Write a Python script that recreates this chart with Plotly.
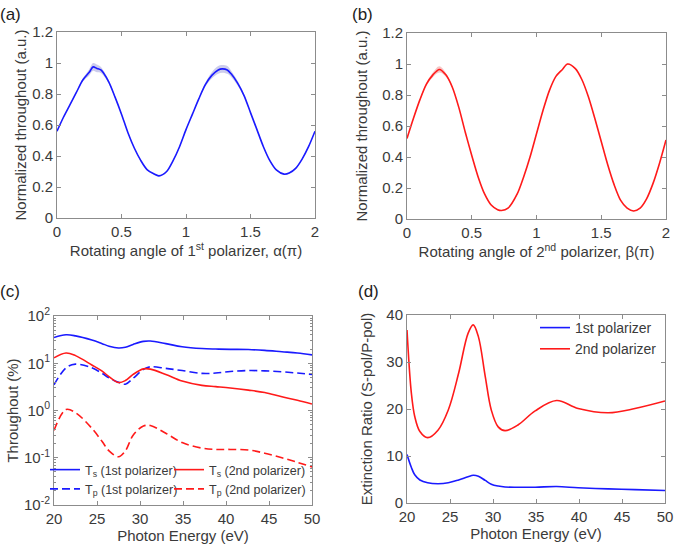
import plotly.graph_objects as go

# ---------------- data ----------------
# (a) 1st polarizer rotation
a_angle = [0, 0.05, 0.1, 0.15, 0.2, 0.25, 0.28, 0.31, 0.34, 0.4, 0.45, 0.5, 0.55, 0.6, 0.65,
           0.7, 0.75, 0.79, 0.85, 0.9, 0.95, 1.0, 1.05, 1.1, 1.15, 1.2, 1.25, 1.28, 1.32,
           1.35, 1.4, 1.45, 1.5, 1.55, 1.6, 1.65, 1.7, 1.76, 1.8, 1.85, 1.9, 1.95, 2.0]
a_value = [0.56, 0.65, 0.73, 0.81, 0.89, 0.94, 0.975, 0.965, 0.955, 0.88, 0.78, 0.67, 0.55,
           0.45, 0.37, 0.31, 0.285, 0.272, 0.30, 0.37, 0.46, 0.57, 0.67, 0.77, 0.86, 0.92,
           0.955, 0.962, 0.955, 0.93, 0.87, 0.79, 0.68, 0.57, 0.46, 0.37, 0.31, 0.283, 0.29,
           0.32, 0.38, 0.46, 0.56]
a_err = [0.004, 0.004, 0.004, 0.006, 0.01, 0.02, 0.025, 0.025, 0.02, 0.012, 0.006, 0.004,
         0.004, 0.004, 0.004, 0.004, 0.004, 0.004, 0.004, 0.004, 0.004, 0.004, 0.004, 0.006,
         0.012, 0.02, 0.025, 0.025, 0.025, 0.02, 0.015, 0.008, 0.004, 0.004, 0.004, 0.004,
         0.004, 0.004, 0.004, 0.004, 0.004, 0.004, 0.004]

# (b) 2nd polarizer rotation
b_angle = [0, 0.05, 0.1, 0.15, 0.2, 0.25, 0.3, 0.35, 0.4, 0.45, 0.5, 0.55, 0.6, 0.65, 0.7,
           0.73, 0.78, 0.85, 0.9, 0.95, 1.0, 1.05, 1.1, 1.15, 1.2, 1.24, 1.3, 1.35, 1.4,
           1.45, 1.5, 1.55, 1.6, 1.65, 1.7, 1.75, 1.8, 1.85, 1.9, 1.95, 2.0]
b_value = [0.52, 0.65, 0.77, 0.87, 0.93, 0.965, 0.93, 0.85, 0.72, 0.56, 0.41, 0.27, 0.16,
           0.09, 0.06, 0.055, 0.07, 0.16, 0.27, 0.40, 0.55, 0.70, 0.83, 0.92, 0.965, 1.0,
           0.97, 0.90, 0.79, 0.65, 0.50, 0.35, 0.22, 0.12, 0.07, 0.052, 0.07, 0.13, 0.23,
           0.36, 0.51]
b_err = [0.003, 0.004, 0.006, 0.01, 0.015, 0.02, 0.012, 0.006, 0.003, 0.003, 0.003, 0.003,
         0.003, 0.003, 0.003, 0.003, 0.003, 0.003, 0.003, 0.003, 0.003, 0.003, 0.003, 0.003,
         0.003, 0.003, 0.003, 0.003, 0.003, 0.003, 0.003, 0.003, 0.003, 0.003, 0.003, 0.003,
         0.003, 0.003, 0.003, 0.003, 0.003]

# (c) throughput vs photon energy (%)
c_energy = [20, 21.4, 22.5, 24.4, 25.6, 26.4, 27.5, 28.3, 29.2, 30.4, 31.2, 33, 34.9, 37.2,
            38.8, 40.5, 42.6, 44.5, 46.5, 48.3, 50]
ts1 = [35, 40, 38, 31, 26, 23, 21, 21.8, 25, 29, 29.5, 26, 22.4, 20.5, 20, 19.7, 19.5,
       18.7, 17.5, 16.5, 15]
ts2 = [13, 16.5, 14.5, 9.2, 6.8, 5.2, 3.9, 4.3, 5.8, 7.6, 7.5, 5.8, 4.2, 3.4, 3.2, 3.0,
       2.7, 2.4, 1.95, 1.65, 1.37]
tp1 = [3.5, 8.0, 9.6, 8.0, 6.1, 4.9, 3.95, 3.6, 4.8, 7.4, 8.4, 7.8, 7.0, 6.1, 6.2, 6.7,
       7.0, 6.9, 6.6, 6.2, 5.8]
tp2 = [0.38, 1.05, 0.9, 0.42, 0.22, 0.14, 0.105, 0.14, 0.3, 0.47, 0.48, 0.33, 0.21, 0.16,
       0.15, 0.15, 0.146, 0.125, 0.1, 0.08, 0.064]

# (d) extinction ratio
d_energy = [20, 20.5, 20.9, 21.5, 22.4, 23.6, 24.8, 26.0, 27.1, 27.7, 28.3, 29.1, 29.8,
            30.6, 31.4, 32.9, 34.9, 37.4, 39.9, 43.4, 46.5, 50]
er2 = [36.8, 23.5, 18.4, 15.2, 13.9, 15.5, 19.8, 27.6, 36.1, 37.9, 35.4, 26.9, 19.8, 16.2,
       15.4, 16.6, 19.6, 21.8, 20.1, 19.2, 20.1, 21.7]
er1 = [10.3, 7.6, 6.0, 4.9, 4.3, 4.1, 4.3, 4.9, 5.6, 5.9, 5.7, 4.8, 4.0, 3.6, 3.4, 3.35,
       3.35, 3.5, 3.25, 3.0, 2.85, 2.65]

# tick labels
a_xticks = [0, 0.5, 1, 1.5, 2]
a_yticks = [0, 0.2, 0.4, 0.6, 0.8, 1, 1.2]
c_yticks = [0.01, 0.1, 1, 10, 100]
c_yticktext = ["10<sup>-2</sup>", "10<sup>-1</sup>", "10<sup>0</sup>", "10<sup>1</sup>", "10<sup>2</sup>"]
e_xticks = [20, 25, 30, 35, 40, 45, 50]
d_yticks = [0, 10, 20, 30, 40]

# ---------------- styling ----------------
W, H = 676, 554
BLUE = "#1a1aff"
RED = "#ff1a1a"
FONT = "Liberation Sans, Arial, sans-serif"
TXT = "#3a3a3a"
FRAME = "#8c8c8c"


def px_dom_x(x0, x1):
    return [x0 / W, x1 / W]


def px_dom_y(top, bottom):
    return [1 - bottom / H, 1 - top / H]


fig = go.Figure()


def band(x, y, e, color, xa, ya):
    upper = [v + d for v, d in zip(y, e)]
    lower = [v - d for v, d in zip(y, e)]
    fig.add_trace(go.Scatter(x=x, y=upper, mode="lines", line=dict(width=0, shape="spline"),
                             showlegend=False, hoverinfo="skip", xaxis=xa, yaxis=ya))
    fig.add_trace(go.Scatter(x=x, y=lower, mode="lines", line=dict(width=0, shape="spline"),
                             fill="tonexty", fillcolor=color, showlegend=False,
                             hoverinfo="skip", xaxis=xa, yaxis=ya))


# (a)
band(a_angle, a_value, a_err, "rgba(110,110,200,0.35)", "x", "y")
fig.add_trace(go.Scatter(x=a_angle, y=a_value, mode="lines",
                         line=dict(color=BLUE, width=1.6, shape="spline", smoothing=0.8),
                         showlegend=False, xaxis="x", yaxis="y"))
# (b)
band(b_angle, b_value, b_err, "rgba(230,90,90,0.35)", "x2", "y2")
fig.add_trace(go.Scatter(x=b_angle, y=b_value, mode="lines",
                         line=dict(color=RED, width=1.6, shape="spline", smoothing=0.8),
                         showlegend=False, xaxis="x2", yaxis="y2"))
# (c)
fig.add_trace(go.Scatter(x=c_energy, y=ts1, mode="lines", name="T<sub>s</sub> (1st polarizer)",
                         line=dict(color=BLUE, width=1.6, shape="spline"),
                         xaxis="x3", yaxis="y3", legend="legend"))
fig.add_trace(go.Scatter(x=c_energy, y=tp1, mode="lines", name="T<sub>p</sub> (1st polarizer)",
                         line=dict(color=BLUE, width=1.6, shape="spline", dash="8px,4px"),
                         xaxis="x3", yaxis="y3", legend="legend"))
fig.add_trace(go.Scatter(x=c_energy, y=ts2, mode="lines", name="T<sub>s</sub> (2nd polarizer)",
                         line=dict(color=RED, width=1.6, shape="spline"),
                         xaxis="x3", yaxis="y3", legend="legend2"))
fig.add_trace(go.Scatter(x=c_energy, y=tp2, mode="lines", name="T<sub>p</sub> (2nd polarizer)",
                         line=dict(color=RED, width=1.6, shape="spline", dash="8px,4px"),
                         xaxis="x3", yaxis="y3", legend="legend2"))
# (d)
fig.add_trace(go.Scatter(x=d_energy, y=er1, mode="lines", name="1st polarizer",
                         line=dict(color=BLUE, width=1.6, shape="spline"),
                         xaxis="x4", yaxis="y4", legend="legend3"))
fig.add_trace(go.Scatter(x=d_energy, y=er2, mode="lines", name="2nd polarizer",
                         line=dict(color=RED, width=1.6, shape="spline"),
                         xaxis="x4", yaxis="y4", legend="legend3"))

common = dict(showline=True, linecolor=FRAME, linewidth=1, mirror="ticks", ticks="inside",
              ticklen=4, tickcolor=FRAME, showgrid=False, zeroline=False, automargin=False,
              tickfont=dict(family=FONT, size=15, color=TXT))
tfont = dict(family=FONT, size=15, color=TXT)
lfont_c = dict(family=FONT, size=12.5, color=TXT)
lfont_d = dict(family=FONT, size=14, color=TXT)

fig.update_layout(
    width=W, height=H, margin=dict(l=0, r=0, t=0, b=0, autoexpand=False),
    paper_bgcolor="white", plot_bgcolor="white",
    font=dict(family=FONT, color=TXT),
    xaxis=dict(domain=px_dom_x(57, 315), anchor="y", range=[0, 2], tickvals=a_xticks,
               title=dict(text="Rotating angle of 1<sup>st</sup> polarizer, α(π)", font=tfont, standoff=4),
               **common),
    yaxis=dict(domain=px_dom_y(32, 218), anchor="x", range=[0, 1.2], tickvals=a_yticks,
               title=dict(text="Normalized throughout (a.u.)", font=tfont, standoff=1),
               **common),
    xaxis2=dict(domain=px_dom_x(407, 666), anchor="y2", range=[0, 2], tickvals=a_xticks,
                title=dict(text="Rotating angle of 2<sup>nd</sup> polarizer, β(π)", font=tfont, standoff=4),
                **common),
    yaxis2=dict(domain=px_dom_y(33, 219), anchor="x2", range=[0, 1.2], tickvals=a_yticks,
                title=dict(text="Normalized throughout (a.u.)", font=tfont, standoff=10),
                **common),
    xaxis3=dict(domain=px_dom_x(54, 312), anchor="y3", range=[20, 50], tickvals=e_xticks,
                title=dict(text="Photon Energy (eV)", font=tfont, standoff=4),
                **common),
    yaxis3=dict(domain=px_dom_y(316, 505), anchor="x3", type="log", range=[-2, 2],
                tickvals=c_yticks, ticktext=c_yticktext,
                minor=dict(ticks="inside", ticklen=2, tickcolor=FRAME, showgrid=False, dtick="D1"),
                title=dict(text="Throughout (%)", font=tfont, standoff=1),
                **common),
    xaxis4=dict(domain=px_dom_x(407, 665), anchor="y4", range=[20, 50], tickvals=e_xticks,
                title=dict(text="Photon Energy (eV)", font=tfont, standoff=4),
                **common),
    yaxis4=dict(domain=px_dom_y(315, 503), anchor="x4", range=[0, 40], tickvals=d_yticks,
                title=dict(text="Extinction Ratio (S-pol/P-pol)", font=tfont, standoff=10),
                **common),
    legend=dict(x=45 / W, y=1 - 455 / H, xanchor="left", yanchor="top", bgcolor="rgba(0,0,0,0)",
                font=lfont_c, itemwidth=30, tracegroupgap=0, traceorder="normal"),
    legend2=dict(x=169 / W, y=1 - 455 / H, xanchor="left", yanchor="top", bgcolor="rgba(0,0,0,0)",
                 font=lfont_c, itemwidth=30, tracegroupgap=0, traceorder="normal"),
    legend3=dict(x=535 / W, y=1 - 312 / H, xanchor="left", yanchor="top", bgcolor="rgba(0,0,0,0)",
                 font=lfont_d, itemwidth=30, tracegroupgap=0, traceorder="normal"),
    annotations=[
        dict(text="(a)", x=10 / W, y=1 - 14 / H, xref="paper", yref="paper", showarrow=False,
             font=dict(family=FONT, size=17, color="#222"), xanchor="center", yanchor="middle"),
        dict(text="(b)", x=362 / W, y=1 - 14 / H, xref="paper", yref="paper", showarrow=False,
             font=dict(family=FONT, size=17, color="#222"), xanchor="center", yanchor="middle"),
        dict(text="(c)", x=10 / W, y=1 - 291 / H, xref="paper", yref="paper", showarrow=False,
             font=dict(family=FONT, size=17, color="#222"), xanchor="center", yanchor="middle"),
        dict(text="(d)", x=368 / W, y=1 - 291 / H, xref="paper", yref="paper", showarrow=False,
             font=dict(family=FONT, size=17, color="#222"), xanchor="center", yanchor="middle"),
    ],
)

fig.write_html("out.html", config={"displayModeBar": False},
               post_script="document.body.style.margin='0';")
